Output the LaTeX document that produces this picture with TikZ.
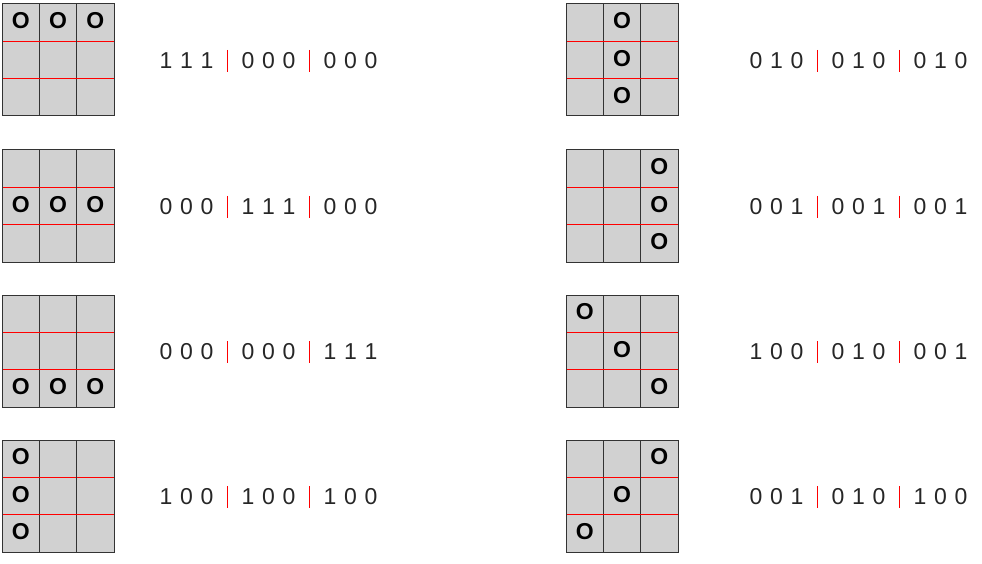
\documentclass[tikz,border=0pt]{standalone}
\usepackage{fontspec}
\setmainfont{Liberation Sans}
\begin{document}
\begin{tikzpicture}[x=1pt,y=-1pt,
  cellbox/.style={fill=black!18,draw=black!80,line width=1pt},
  mark O/.style={font=\fontsize{23}{23}\selectfont\bfseries,inner sep=0},
  digit/.style={font=\fontsize{23}{23}\selectfont,text=black!85,inner sep=0},
  redsep/.style={red,line width=1pt}]
\useasboundingbox (0,0) rectangle (982,564);
% #1 x, #2 y, #3 list of (col,row) marks, #4 text x, #5 digits
\newcommand{\board}[5]{%
  \fill[black!18] (#1,#2) rectangle ++(112,112);
  \foreach \k in {1,2}{
    \draw[black!80,line width=1pt] ({#1+\k*37.33},#2) -- ({#1+\k*37.33},{#2+112});
    \draw[redsep] (#1,{#2+\k*37.33}) -- ({#1+112},{#2+\k*37.33});}
  \draw[black!80,line width=1pt] (#1,#2) rectangle ++(112,112);
  \foreach \c/\r in {#3}
    \node[mark O] at ({#1+18.7+\c*37.33},{#2+17+\r*37.33}) {O};
  \foreach \d [count=\i from 0] in {#5}{
    \ifnum\i=3 \draw[redsep] ({#4+\i*20.5},{#2+46}) -- ({#4+\i*20.5},{#2+68});
    \else\ifnum\i=7 \draw[redsep] ({#4+\i*20.5},{#2+46}) -- ({#4+\i*20.5},{#2+68});
    \else \node[digit] at ({#4+\i*20.5},{#2+57}) {\d};\fi\fi}
}
\board{2}{4}{0/0,1/0,2/0}{166}{1,1,1,x,0,0,0,x,0,0,0}
\board{2}{150}{0/1,1/1,2/1}{166}{0,0,0,x,1,1,1,x,0,0,0}
\board{2}{295}{0/2,1/2,2/2}{166}{0,0,0,x,0,0,0,x,1,1,1}
\board{2}{440}{0/0,0/1,0/2}{166}{1,0,0,x,1,0,0,x,1,0,0}
\board{566}{4}{1/0,1/1,1/2}{756}{0,1,0,x,0,1,0,x,0,1,0}
\board{566}{150}{2/0,2/1,2/2}{756}{0,0,1,x,0,0,1,x,0,0,1}
\board{566}{295}{0/0,1/1,2/2}{756}{1,0,0,x,0,1,0,x,0,0,1}
\board{566}{440}{2/0,1/1,0/2}{756}{0,0,1,x,0,1,0,x,1,0,0}
\end{tikzpicture}
\end{document}
